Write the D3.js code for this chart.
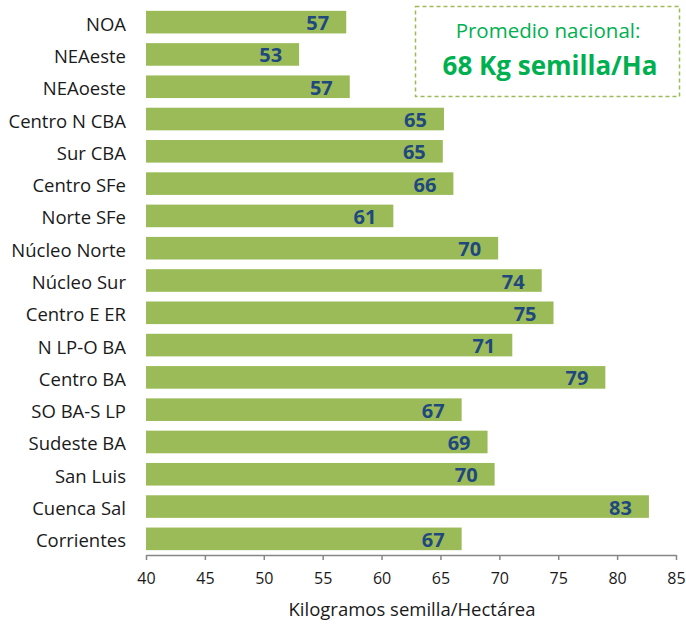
<!DOCTYPE html>
<html>
<head>
<meta charset="utf-8">
<script src="https://cdn.jsdelivr.net/npm/d3@7"></script>
<style>
  body { margin: 0; background: #fff; }
  svg text { font-family: 'Open Sans', 'Noto Sans', sans-serif; }
</style>
</head>
<body>
<div id="chart"></div>
<script>
// datos
const regiones = ['NOA', 'NEAeste', 'NEAoeste', 'Centro N CBA', 'Sur CBA', 'Centro SFe', 'Norte SFe',
  'Núcleo Norte', 'Núcleo Sur', 'Centro E ER', 'N LP-O BA', 'Centro BA', 'SO BA-S LP',
  'Sudeste BA', 'San Luis', 'Cuenca Sal', 'Corrientes']
const kgSemilla = [57.0, 53.0, 57.3, 65.3, 65.2, 66.1, 61.0, 69.9, 73.6, 74.6, 71.1, 79.0, 66.8, 69.0, 69.6, 82.7, 66.8]
const xTicks = [40, 45, 50, 55, 60, 65, 70, 75, 80, 85]
const promedioTitulo = 'Promedio nacional:'
const promedioValor = '68 Kg semilla/Ha'
const ejeTitulo = 'Kilogramos semilla/Hectárea'

const width = 686
const height = 624
const margin = { left: 146, right: 10, top: 6, bottom: 69 }

const svg = d3.select('#chart')
  .append('svg')
  .attr('width', width)
  .attr('height', height)

const data = regiones.map((name, i) => ({ name, value: kgSemilla[i] }))

const xScale = d3.scaleLinear()
  .domain([40, 85])
  .range([margin.left, 676])

const yScale = d3.scaleBand()
  .domain(regiones)
  .range([margin.top, height - margin.bottom])
  .paddingInner(0.3)
  .paddingOuter(0.15)

// barras
svg.selectAll('.bar')
  .data(data)
  .enter()
  .append('rect')
  .attr('class', 'bar')
  .attr('x', xScale(40))
  .attr('y', d => yScale(d.name))
  .attr('width', d => xScale(d.value) - xScale(40))
  .attr('height', yScale.bandwidth())
  .attr('fill', '#9bbb59')

// valores
svg.selectAll('.value')
  .data(data)
  .enter()
  .append('text')
  .attr('class', 'value')
  .attr('x', d => xScale(d.value) - 17)
  .attr('y', d => yScale(d.name) + yScale.bandwidth() / 2)
  .attr('dy', '0.4em')
  .attr('text-anchor', 'end')
  .attr('font-size', 20)
  .attr('font-weight', 'bold')
  .attr('fill', '#1f497d')
  .text(d => d3.format('.0f')(d.value))

// categorias
svg.selectAll('.label')
  .data(data)
  .enter()
  .append('text')
  .attr('class', 'label')
  .attr('x', 126)
  .attr('y', d => yScale(d.name) + yScale.bandwidth() / 2)
  .attr('dy', '0.46em')
  .attr('text-anchor', 'end')
  .attr('font-size', 18.5)
  .attr('fill', '#1a1a1a')
  .text(d => d.name)

// eje x
const xAxis = d3.axisBottom(xScale)
  .tickValues(xTicks)
  .tickSize(5)
  .tickPadding(13)
  .tickSizeOuter(0)

const xAxisG = svg.append('g')
  .attr('transform', `translate(0,${height - margin.bottom})`)
  .call(xAxis)

xAxisG.select('.domain').attr('stroke', '#868686').attr('stroke-width', 1.5)
xAxisG.selectAll('.tick line').attr('stroke', '#868686').attr('stroke-width', 1.5)
xAxisG.selectAll('.tick text')
  .attr('font-size', 16)
  .attr('fill', '#1a1a1a')
  .style('font-family', "'Open Sans', sans-serif")

svg.append('text')
  .attr('x', 412)
  .attr('y', 616)
  .attr('text-anchor', 'middle')
  .attr('font-size', 18.5)
  .attr('fill', '#1a1a1a')
  .text(ejeTitulo)

// cuadro promedio
svg.append('rect')
  .attr('x', 415.5)
  .attr('y', 6.5)
  .attr('width', 264)
  .attr('height', 90)
  .attr('fill', '#fff')
  .attr('stroke', '#9bbb59')
  .attr('stroke-width', 1.5)
  .attr('stroke-dasharray', '4,3')

svg.append('text')
  .attr('x', 548)
  .attr('y', 38)
  .attr('text-anchor', 'middle')
  .attr('font-size', 20.5)
  .attr('fill', '#00b050')
  .text(promedioTitulo)

svg.append('text')
  .attr('x', 550)
  .attr('y', 75)
  .attr('text-anchor', 'middle')
  .attr('font-size', 26)
  .attr('font-weight', 'bold')
  .attr('fill', '#00b050')
  .text(promedioValor)
</script>
</body>
</html>
